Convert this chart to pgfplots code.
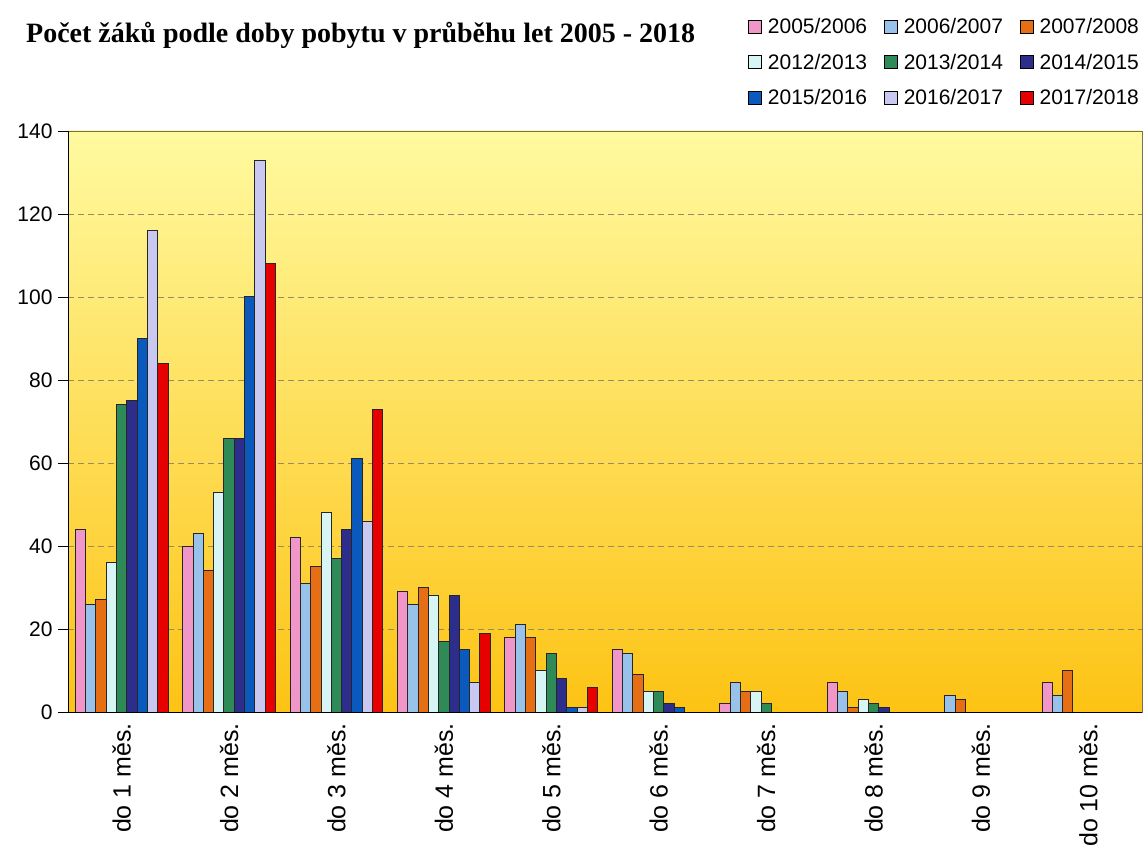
\documentclass[border=0pt]{standalone}
\usepackage{pgfplots}
\pgfplotsset{compat=1.18}
\usepackage{fontspec}
\setmainfont{Liberation Sans}
\newfontfamily\titlefont{Liberation Serif}
\definecolor{c1}{RGB}{240,150,200}
\definecolor{c2}{RGB}{153,194,235}
\definecolor{c3}{RGB}{230,110,20}
\definecolor{c4}{RGB}{215,245,245}
\definecolor{c5}{RGB}{46,139,87}
\definecolor{c6}{RGB}{45,45,140}
\definecolor{c7}{RGB}{10,90,190}
\definecolor{c8}{RGB}{200,200,240}
\definecolor{c9}{RGB}{230,0,0}
\definecolor{bgtop}{RGB}{255,250,160}
\definecolor{bgbot}{RGB}{253,195,20}
\definecolor{gridc}{RGB}{150,140,100}
\begin{document}
\begin{tikzpicture}
\useasboundingbox (0,0) rectangle (1145pt,849pt);
\node[anchor=base west, inner sep=0pt, font=\titlefont\bfseries\fontsize{28}{32}\selectfont] at (26pt,806pt) {Počet žáků podle doby pobytu v průběhu let 2005 - 2018};
\begin{axis}[
  at={(68pt,137pt)}, anchor=south west,
  scale only axis, width=1074pt, height=581pt,
  ymin=0, ymax=140, ytick={0,20,...,140},
  xmin=-0.5, xmax=9.5,
  xtick={0,...,9},
  xticklabels={do 1 měs.,do 2 měs.,do 3 měs.,do 4 měs.,do 5 měs.,do 6 měs.,do 7 měs.,do 8 měs.,do 9 měs.,do 10 měs.},
  x tick label style={rotate=90, anchor=east, font=\fontsize{25}{28}\selectfont, inner sep=0pt},
  xticklabel shift=1pt,
  y tick label style={font=\fontsize{21}{24}\selectfont},
  /pgf/number format/assume math mode=true,
  yticklabel shift=2pt,
  major x tick style={draw=none},
  extra x ticks={-0.5,0.5,...,9.5},
  extra x tick labels={},
  extra x tick style={major tick length=10pt, tick style={black, line width=0.8pt}, grid=none},
  xtick pos=bottom, ytick pos=left,
  tick align=outside,
  major tick length=10pt,
  tick style={black, line width=0.8pt},
  ymajorgrids,
  grid style={gridc, dashed, line width=0.8pt, dash pattern=on 6pt off 4pt},
  axis line style={draw=gridc!80!black, line width=0.6pt},
  axis background/.style={top color=bgtop, bottom color=bgbot},
  ybar=0pt, bar width=10.3pt,
  every axis plot/.append style={draw=black!85, line width=1pt},
  legend columns=3,
  legend image code/.code={\draw[#1, draw=black, line width=0.6pt] (0pt,-6.5pt) rectangle (13pt,6.5pt);},
  legend style={at={(0.6304,1.2014)}, anchor=north west, draw=none, fill=none,
    font=\fontsize{21}{23}\selectfont, row sep=15pt,
    /tikz/every odd column/.append style={column sep=4pt},
    /tikz/every even column/.append style={column sep=15pt},
    nodes={inner sep=2pt}},
  clip=false,
]
\addplot[fill=c1] coordinates {(0,44)(1,40)(2,42)(3,29)(4,18)(5,15)(6,2)(7,7)(8,0)(9,7)};
\addplot[fill=c2] coordinates {(0,26)(1,43)(2,31)(3,26)(4,21)(5,14)(6,7)(7,5)(8,4)(9,4)};
\addplot[fill=c3] coordinates {(0,27)(1,34)(2,35)(3,30)(4,18)(5,9)(6,5)(7,1)(8,3)(9,10)};
\addplot[fill=c4] coordinates {(0,36)(1,53)(2,48)(3,28)(4,10)(5,5)(6,5)(7,3)(8,0)(9,0)};
\addplot[fill=c5] coordinates {(0,74)(1,66)(2,37)(3,17)(4,14)(5,5)(6,2)(7,2)(8,0)(9,0)};
\addplot[fill=c6] coordinates {(0,75)(1,66)(2,44)(3,28)(4,8)(5,2)(6,0)(7,1)(8,0)(9,0)};
\addplot[fill=c7] coordinates {(0,90)(1,100)(2,61)(3,15)(4,1)(5,1)(6,0)(7,0)(8,0)(9,0)};
\addplot[fill=c8] coordinates {(0,116)(1,133)(2,46)(3,7)(4,1)(5,0)(6,0)(7,0)(8,0)(9,0)};
\addplot[fill=c9] coordinates {(0,84)(1,108)(2,73)(3,19)(4,6)(5,0)(6,0)(7,0)(8,0)(9,0)};
\legend{2005/2006,2006/2007,2007/2008,2012/2013,2013/2014,2014/2015,2015/2016,2016/2017,2017/2018}
\draw[black, line width=1pt] (rel axis cs:0,1) -- (rel axis cs:0,0) -- (rel axis cs:1,0);
\end{axis}
\end{tikzpicture}
\end{document}
